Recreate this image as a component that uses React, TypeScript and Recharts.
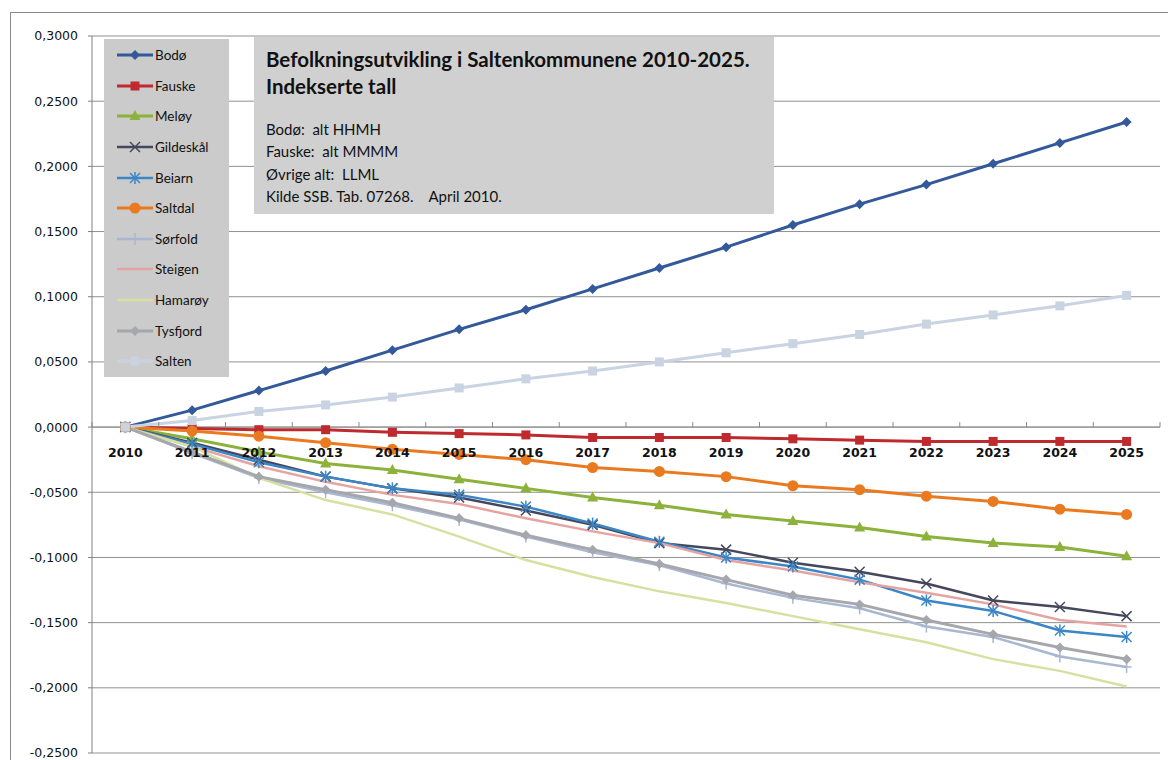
import React from "react";
import {
  LineChart,
  Line,
  XAxis,
  YAxis,
  CartesianGrid,
  ReferenceLine,
} from "recharts";

// values (index relative to 2010)
const YEARS = [2010, 2011, 2012, 2013, 2014, 2015, 2016, 2017, 2018, 2019, 2020, 2021, 2022, 2023, 2024, 2025];

const BODO = [0, 0.013, 0.028, 0.043, 0.059, 0.075, 0.09, 0.106, 0.122, 0.138, 0.155, 0.171, 0.186, 0.202, 0.218, 0.234];
const FAUSKE = [0, -0.001, -0.002, -0.002, -0.004, -0.005, -0.006, -0.008, -0.008, -0.008, -0.009, -0.01, -0.011, -0.011, -0.011, -0.011];
const MELOY = [0, -0.009, -0.019, -0.028, -0.033, -0.04, -0.047, -0.054, -0.06, -0.067, -0.072, -0.077, -0.084, -0.089, -0.092, -0.099];
const GILDESKAL = [0, -0.012, -0.025, -0.038, -0.047, -0.054, -0.064, -0.075, -0.089, -0.094, -0.104, -0.111, -0.12, -0.133, -0.138, -0.145];
const BEIARN = [0, -0.013, -0.027, -0.038, -0.047, -0.052, -0.061, -0.074, -0.088, -0.1, -0.107, -0.117, -0.133, -0.141, -0.156, -0.161];
const SALTDAL = [0, -0.003, -0.007, -0.012, -0.017, -0.021, -0.025, -0.031, -0.034, -0.038, -0.045, -0.048, -0.053, -0.057, -0.063, -0.067];
const SORFOLD = [0, -0.02, -0.039, -0.05, -0.06, -0.071, -0.084, -0.096, -0.106, -0.12, -0.131, -0.139, -0.153, -0.161, -0.176, -0.184];
const STEIGEN = [0, -0.015, -0.03, -0.042, -0.052, -0.059, -0.07, -0.08, -0.089, -0.102, -0.11, -0.119, -0.127, -0.136, -0.148, -0.153];
const HAMAROY = [0, -0.015, -0.039, -0.056, -0.067, -0.084, -0.102, -0.115, -0.126, -0.135, -0.145, -0.155, -0.165, -0.178, -0.187, -0.199];
const TYSFJORD = [0, -0.019, -0.038, -0.048, -0.058, -0.07, -0.083, -0.094, -0.105, -0.117, -0.129, -0.136, -0.148, -0.159, -0.169, -0.178];
const SALTEN = [0, 0.005, 0.012, 0.017, 0.023, 0.03, 0.037, 0.043, 0.05, 0.057, 0.064, 0.071, 0.079, 0.086, 0.093, 0.101];

const Y_TICKS = [0.3, 0.25, 0.2, 0.15, 0.1, 0.05, 0, -0.05, -0.1, -0.15, -0.2, -0.25];

const TITLE = "Befolkningsutvikling i Saltenkommunene 2010-2025.";
const SUBTITLE = "Indekserte tall";
const NOTES = ["Bodø:  alt HHMH", "Fauske:  alt MMMM", "Øvrige alt:  LLML", "Kilde SSB. Tab. 07268.    April 2010."];

type Shape = "diamond" | "square" | "triangle" | "x" | "asterisk" | "circle" | "plus" | "none";

const SERIES: { key: string; name: string; values: number[]; color: string; shape: Shape; width: number }[] = [
  { key: "bodo", name: "Bodø", values: BODO, color: "#33599a", shape: "diamond", width: 3 },
  { key: "fauske", name: "Fauske", values: FAUSKE, color: "#be2a2e", shape: "square", width: 3 },
  { key: "meloy", name: "Meløy", values: MELOY, color: "#8db23b", shape: "triangle", width: 3 },
  { key: "gildeskal", name: "Gildeskål", values: GILDESKAL, color: "#45475c", shape: "x", width: 2.5 },
  { key: "beiarn", name: "Beiarn", values: BEIARN, color: "#3b86c6", shape: "asterisk", width: 2.5 },
  { key: "saltdal", name: "Saltdal", values: SALTDAL, color: "#ea7a20", shape: "circle", width: 3 },
  { key: "sorfold", name: "Sørfold", values: SORFOLD, color: "#a9b7d0", shape: "plus", width: 2.5 },
  { key: "steigen", name: "Steigen", values: STEIGEN, color: "#e5a4a2", shape: "none", width: 2.5 },
  { key: "hamaroy", name: "Hamarøy", values: HAMAROY, color: "#d6e1a1", shape: "none", width: 2.5 },
  { key: "tysfjord", name: "Tysfjord", values: TYSFJORD, color: "#a6a6ad", shape: "diamond", width: 3 },
  { key: "salten", name: "Salten", values: SALTEN, color: "#c9d3e2", shape: "square", width: 3 },
];

const rows = YEARS.map((year, i) => {
  const row: Record<string, number> = { year };
  SERIES.forEach((s) => (row[s.key] = s.values[i]));
  return row;
});

const W = 1168;
const H = 760;
const X_AXIS_H = 1;
const M = { top: 36, right: 8, bottom: 6, left: 0 };
const Y_AXIS_W = 92;
const Y_MAX = 0.3;
const Y_MIN = -0.25;
const PLOT_H = H - M.top - M.bottom - X_AXIS_H;
const ZERO_Y = M.top + (Y_MAX / (Y_MAX - Y_MIN)) * PLOT_H;
const STEP = (W - M.right - Y_AXIS_W) / YEARS.length;

const SANS = "Lato, 'Open Sans', sans-serif";
const AXIS_FONT = "'DejaVu Sans', Verdana, sans-serif";

function MarkerShape({ shape, color, cx, cy }: { shape: Shape; color: string; cx: number; cy: number }) {
  const r = 5;
  switch (shape) {
    case "diamond":
      return <polygon points={`${cx},${cy - r} ${cx + r},${cy} ${cx},${cy + r} ${cx - r},${cy}`} fill={color} />;
    case "square":
      return <rect x={cx - 4.5} y={cy - 4.5} width={9} height={9} fill={color} />;
    case "triangle":
      return <polygon points={`${cx},${cy - 6} ${cx + 5.5},${cy + 4} ${cx - 5.5},${cy + 4}`} fill={color} />;
    case "circle":
      return <circle cx={cx} cy={cy} r={5.5} fill={color} />;
    case "x":
      return (
        <g stroke={color} strokeWidth={1.5}>
          <line x1={cx - r} y1={cy - r} x2={cx + r} y2={cy + r} />
          <line x1={cx - r} y1={cy + r} x2={cx + r} y2={cy - r} />
        </g>
      );
    case "asterisk":
      return (
        <g stroke={color} strokeWidth={1.5}>
          <line x1={cx - r} y1={cy - r} x2={cx + r} y2={cy + r} />
          <line x1={cx - r} y1={cy + r} x2={cx + r} y2={cy - r} />
          <line x1={cx} y1={cy - r - 1} x2={cx} y2={cy + r + 1} />
        </g>
      );
    case "plus":
      return (
        <g stroke={color} strokeWidth={1.5}>
          <line x1={cx} y1={cy - 6} x2={cx} y2={cy + 6} />
          <line x1={cx - 5} y1={cy} x2={cx + 5} y2={cy} />
        </g>
      );
    default:
      return null;
  }
}

const makeDot = (shape: Shape, color: string) =>
  shape === "none"
    ? false
    : (props: any) => (
        <g key={`${shape}-${props.index}`}>
          <MarkerShape shape={shape} color={color} cx={props.cx} cy={props.cy} />
        </g>
      );

const fmtY = (v: number) => (Math.abs(v) < 1e-9 ? "0,0000" : v.toFixed(4).replace(".", ","));

function YearTick(props: any) {
  const { x, payload, index } = props;
  const last = index === YEARS.length - 1;
  return (
    <g>
      <line x1={x - STEP / 2} y1={ZERO_Y - 5} x2={x - STEP / 2} y2={ZERO_Y} stroke="#888" />
      {last && <line x1={x + STEP / 2} y1={ZERO_Y - 5} x2={x + STEP / 2} y2={ZERO_Y} stroke="#888" />}
      <text
        x={x}
        y={ZERO_Y + 30}
        textAnchor="middle"
        fontFamily={AXIS_FONT}
        fontWeight="bold"
        fontSize={12.5}
        fill="#111"
      >
        {payload.value}
      </text>
    </g>
  );
}

function LegendBox() {
  return (
    <div
      style={{
        position: "absolute",
        left: 104,
        top: 39,
        background: "#cbcbcb",
        width: 125,
        height: 338,
        paddingTop: 1,
        boxSizing: "border-box",
        fontFamily: SANS,
        fontSize: 13.5,
        color: "#111",
      }}
    >
      {SERIES.map((s) => (
        <div key={s.key} style={{ height: 30.6, display: "flex", alignItems: "center", paddingLeft: 13 }}>
          <svg width={36} height={14} style={{ display: "block" }}>
            <line x1={0} y1={7} x2={36} y2={7} stroke={s.color} strokeWidth={s.width} />
            <MarkerShape shape={s.shape} color={s.color} cx={18} cy={7} />
          </svg>
          <span style={{ marginLeft: 2 }}>{s.name}</span>
        </div>
      ))}
    </div>
  );
}

export default function App() {
  return (
    <div style={{ position: "absolute", left: 0, top: 0, width: W, height: H, background: "#fff", overflow: "hidden" }}>
      <div
        style={{
          position: "absolute",
          left: 10,
          top: 12,
          width: W,
          height: H,
          border: "1px solid #8a8a8a",
        }}
      />
      <LineChart width={W} height={H} data={rows} margin={M} style={{ position: "absolute", left: 0, top: 0 }}>
        <CartesianGrid horizontal vertical={false} stroke="#909090" strokeWidth={1} />
        <XAxis
          dataKey="year"
          type="number"
          domain={[2009.5, 2025.5]}
          ticks={YEARS}
          height={X_AXIS_H}
          axisLine={false}
          tickLine={false}
          tick={<YearTick />}
          interval={0}
        />
        <YAxis
          domain={[Y_MIN, Y_MAX]}
          ticks={Y_TICKS}
          width={Y_AXIS_W}
          tickFormatter={fmtY}
          tickSize={4}
          tickMargin={10}
          interval={0}
          axisLine={{ stroke: "#808080" }}
          tickLine={{ stroke: "#808080" }}
          tick={{ fontFamily: AXIS_FONT, fontSize: 12.5, fill: "#111" }}
        />
        <ReferenceLine y={0} stroke="#8a8a8a" />
        {SERIES.map((s) => (
          <Line
            key={s.key}
            dataKey={s.key}
            name={s.name}
            stroke={s.color}
            strokeWidth={s.width}
            dot={makeDot(s.shape, s.color)}
            activeDot={false}
            type="linear"
            isAnimationActive={false}
          />
        ))}
      </LineChart>
      <LegendBox />
      <div
        style={{
          position: "absolute",
          left: 254,
          top: 37,
          width: 520,
          height: 177,
          background: "#d0d0d0",
          boxSizing: "border-box",
          padding: "9px 0 0 12px",
          fontFamily: SANS,
          color: "#111",
        }}
      >
        <div style={{ fontWeight: "bold", fontSize: 20.5, lineHeight: "27px" }}>{TITLE}</div>
        <div style={{ fontWeight: "bold", fontSize: 20.5, lineHeight: "27px" }}>{SUBTITLE}</div>
        <div style={{ marginTop: 18, fontSize: 15, lineHeight: "22.3px" }}>
          {NOTES.map((n) => (
            <div key={n} style={{ whiteSpace: "pre" }}>
              {n}
            </div>
          ))}
        </div>
      </div>
    </div>
  );
}
